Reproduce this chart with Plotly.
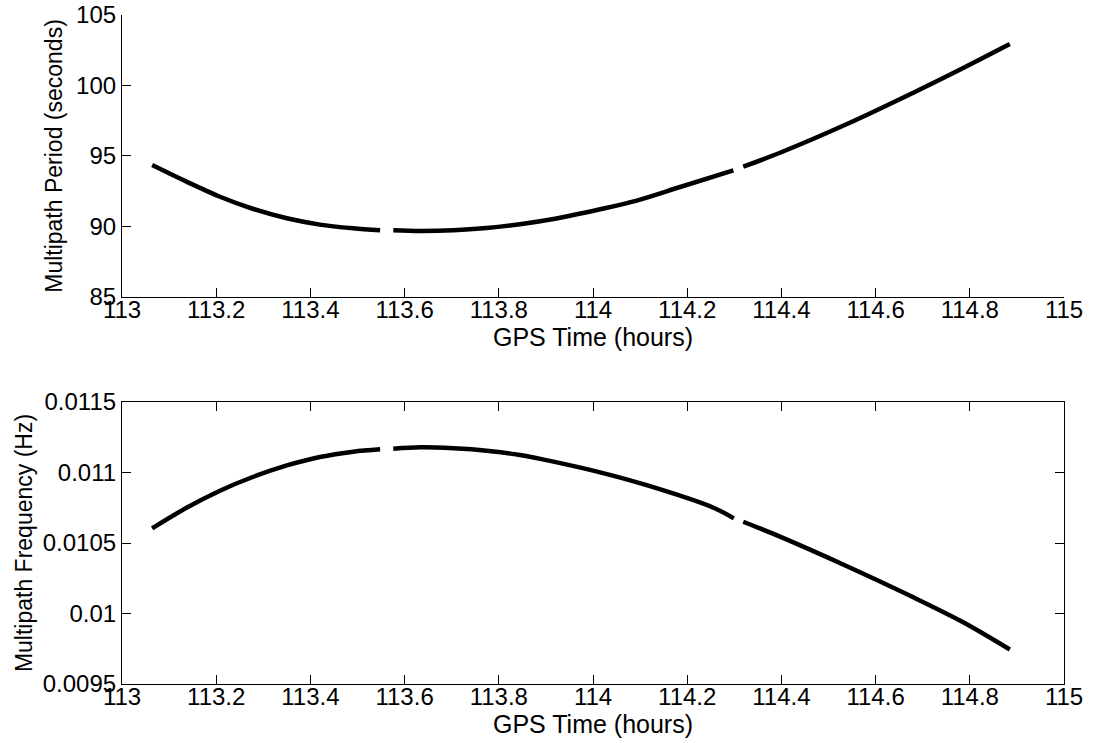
import plotly.graph_objects as go
from plotly.subplots import make_subplots

# ---- data ----
t_seg1 = [113.064, 113.137, 113.208, 113.279, 113.35, 113.42, 113.491, 113.548]
t_seg2 = [113.576, 113.633, 113.704, 113.774, 113.845, 113.916, 114.015, 114.093, 114.185, 114.298]
t_seg3 = [114.319, 114.397, 114.538, 114.68, 114.786, 114.885]

period_seg1 = [94.36, 93.18, 92.11, 91.24, 90.58, 90.13, 89.87, 89.73]
period_seg2 = [89.73, 89.68, 89.73, 89.89, 90.16, 90.53, 91.22, 91.84, 92.80, 93.98]
period_seg3 = [94.24, 95.23, 97.25, 99.49, 101.24, 102.94]

tf_seg1 = [113.064, 113.137, 113.208, 113.279, 113.35, 113.42, 113.491, 113.548]
tf_seg2 = [113.576, 113.633, 113.704, 113.774, 113.845, 113.916, 114.015, 114.114, 114.256, 114.299]
tf_seg3 = [114.319, 114.397, 114.538, 114.68, 114.786, 114.885]

freq_seg1 = [0.010604, 0.010750, 0.010871, 0.010970, 0.011050, 0.011110, 0.011148, 0.011165]
freq_seg2 = [0.011169, 0.011179, 0.011172, 0.011155, 0.011124, 0.011077, 0.011001, 0.010910, 0.010750, 0.010675]
freq_seg3 = [0.010651, 0.010545, 0.010337, 0.010115, 0.009938, 0.009745]

x_ticks = [113, 113.2, 113.4, 113.6, 113.8, 114, 114.2, 114.4, 114.6, 114.8, 115]
x_ticktext = ["113", "113.2", "113.4", "113.6", "113.8", "114", "114.2", "114.4", "114.6", "114.8", "115"]
period_ticks = [85, 90, 95, 100, 105]
period_ticktext = ["85", "90", "95", "100", "105"]
freq_ticks = [0.0095, 0.01, 0.0105, 0.011, 0.0115]
freq_ticktext = ["0.0095", "0.01", "0.0105", "0.011", "0.0115"]


def join(*segs):
    out = []
    for i, s in enumerate(segs):
        if i:
            out.append(None)
        out.extend(s)
    return out


fig = make_subplots(rows=2, cols=1, vertical_spacing=0.157)

line_style = dict(color="black", width=4.5, shape="spline", smoothing=0.9)

fig.add_trace(go.Scatter(x=join(t_seg1, t_seg2, t_seg3),
                         y=join(period_seg1, period_seg2, period_seg3),
                         mode="lines", line=line_style, connectgaps=False,
                         showlegend=False), row=1, col=1)
fig.add_trace(go.Scatter(x=join(tf_seg1, tf_seg2, tf_seg3),
                         y=join(freq_seg1, freq_seg2, freq_seg3),
                         mode="lines", line=line_style, connectgaps=False,
                         showlegend=False), row=2, col=1)

font_family = "Liberation Sans, Arial, Helvetica, sans-serif"
tick_font = dict(family=font_family, size=24, color="black")
xtitle_font = dict(family=font_family, size=25, color="black")
ytitle_font = dict(family=font_family, size=23, color="black")

common_x = dict(range=[113, 115], tickvals=x_ticks, ticktext=x_ticktext,
                ticks="inside", ticklen=9, tickwidth=1, tickcolor="black",
                showline=True, linecolor="black", linewidth=1.2,
                showgrid=False, zeroline=False, tickfont=tick_font,
                ticklabelstandoff=-9, automargin=False,
                title=dict(text="GPS Time (hours)", font=xtitle_font, standoff=0))
common_y = dict(ticks="inside", ticklen=9, tickwidth=1, tickcolor="black",
                showline=True, linecolor="black", linewidth=1.2,
                showgrid=False, zeroline=False, tickfont=tick_font,
                automargin=False)

fig.update_xaxes(**common_x, mirror=False, row=1, col=1)
fig.update_xaxes(**common_x, mirror="ticks", row=2, col=1)
fig.update_yaxes(**common_y, range=[85, 105], tickvals=period_ticks, ticktext=period_ticktext,
                 mirror=False,
                 title=dict(text="Multipath Period (seconds)", font=ytitle_font, standoff=6),
                 row=1, col=1)
fig.update_yaxes(**common_y, range=[0.0095, 0.0115], tickvals=freq_ticks, ticktext=freq_ticktext,
                 mirror="ticks",
                 title=dict(text="Multipath Frequency (Hz)", font=ytitle_font, standoff=3),
                 row=2, col=1)

fig.update_layout(
    width=1093, height=743,
    margin=dict(l=122, r=29, t=15, b=59, autoexpand=False),
    paper_bgcolor="white", plot_bgcolor="white",
    showlegend=False,
)
fig.layout.yaxis.domain = [0.5785, 1.0]
fig.layout.yaxis2.domain = [0.0, 0.4215]

fig.write_html("out.html")
